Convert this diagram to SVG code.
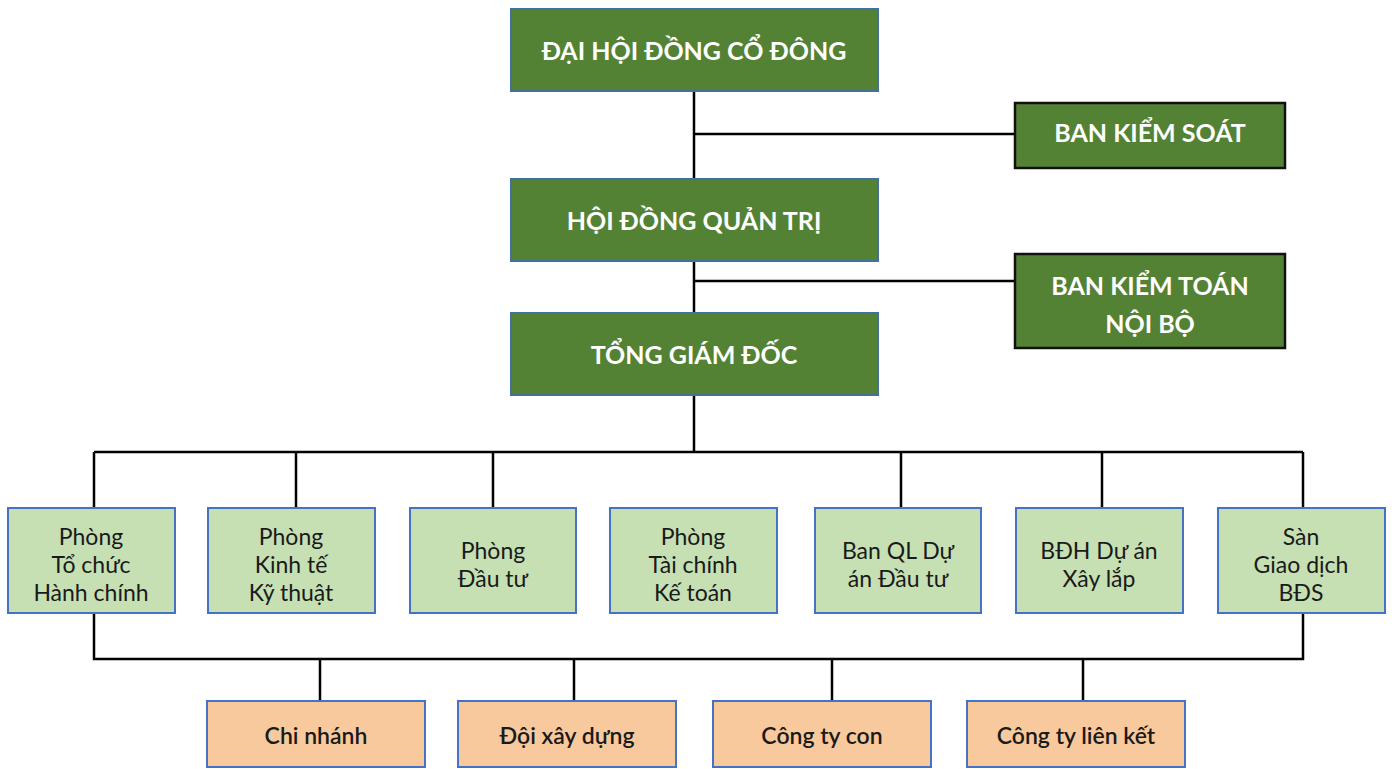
<svg xmlns="http://www.w3.org/2000/svg" width="1392" height="769" viewBox="0 0 1392 769">
<style>
.dg{fill:#548235;stroke:#41719C;stroke-width:2}
.dk{fill:#548235;stroke:#111;stroke-width:2.5}
.lg{fill:#C6E0B4;stroke:#4472C4;stroke-width:2}
.or{fill:#F8C99C;stroke:#4472C4;stroke-width:2}
.tw{font-family:Lato,"Open Sans",sans-serif;font-weight:bold;font-size:25px;fill:#fff;text-anchor:middle;dominant-baseline:central}
.tb{font-family:Lato,"Open Sans",sans-serif;font-size:23px;fill:#1a1a1a;text-anchor:middle;dominant-baseline:central}
.to{font-family:Lato,"Open Sans",sans-serif;font-weight:600;font-size:23px;fill:#1a1a1a;text-anchor:middle;dominant-baseline:central}
.ln{stroke:#000;stroke-width:2.5;fill:none}
</style>
<rect width="1392" height="769" fill="#fff"/>
<g id="connectors">
<path class="ln" d="M694 91V452M694 134H1014M694 281H1014"/>
<path class="ln" d="M94 452H1303M94 452V508M296 452V508M493 452V508M901 452V508M1102 452V508M1303 452V508"/>
<path class="ln" d="M94 613V659H1303V613M320 659V701M574 659V701M832 659V701M1083 659V701"/>
</g>
<g id="n-dhdcd"><rect class="dg" x="511" y="9" width="367" height="82"/><text class="tw" x="694" y="50">ĐẠI HỘI ĐỒNG CỔ ĐÔNG</text></g>
<g id="n-bks"><rect class="dk" x="1015" y="103" width="270" height="65"/><text class="tw" x="1150" y="132">BAN KIỂM SOÁT</text></g>
<g id="n-hdqt"><rect class="dg" x="511" y="179" width="367" height="82"/><text class="tw" x="694" y="220">HỘI ĐỒNG QUẢN TRỊ</text></g>
<g id="n-bktnb"><rect class="dk" x="1015" y="254" width="270" height="94"/><text class="tw" x="1150" y="285">BAN KIỂM TOÁN</text><text class="tw" x="1150" y="323">NỘI BỘ</text></g>
<g id="n-tgd"><rect class="dg" x="511" y="313" width="367" height="82"/><text class="tw" x="694" y="354">TỔNG GIÁM ĐỐC</text></g>
<g id="n-p1"><rect class="lg" x="8" y="508" width="167" height="105"/><text class="tb" x="91" y="536">Phòng</text><text class="tb" x="91" y="564">Tổ chức</text><text class="tb" x="91" y="592">Hành chính</text></g>
<g id="n-p2"><rect class="lg" x="208" y="508" width="167" height="105"/><text class="tb" x="291" y="536">Phòng</text><text class="tb" x="291" y="564">Kinh tế</text><text class="tb" x="291" y="592">Kỹ thuật</text></g>
<g id="n-p3"><rect class="lg" x="410" y="508" width="166" height="105"/><text class="tb" x="493" y="550">Phòng</text><text class="tb" x="493" y="578">Đầu tư</text></g>
<g id="n-p4"><rect class="lg" x="610" y="508" width="167" height="105"/><text class="tb" x="693" y="536">Phòng</text><text class="tb" x="693" y="564">Tài chính</text><text class="tb" x="693" y="592">Kế toán</text></g>
<g id="n-p5"><rect class="lg" x="815" y="508" width="166" height="105"/><text class="tb" x="898" y="550">Ban QL Dự</text><text class="tb" x="898" y="578">án Đầu tư</text></g>
<g id="n-p6"><rect class="lg" x="1016" y="508" width="167" height="105"/><text class="tb" x="1099" y="550">BĐH Dự án</text><text class="tb" x="1099" y="578">Xây lắp</text></g>
<g id="n-p7"><rect class="lg" x="1218" y="508" width="167" height="105"/><text class="tb" x="1301" y="536">Sàn</text><text class="tb" x="1301" y="564">Giao dịch</text><text class="tb" x="1301" y="592">BĐS</text></g>
<g id="n-o1"><rect class="or" x="207" y="701" width="218" height="66"/><text class="to" x="316" y="735">Chi nhánh</text></g>
<g id="n-o2"><rect class="or" x="458" y="701" width="218" height="66"/><text class="to" x="567" y="735">Đội xây dựng</text></g>
<g id="n-o3"><rect class="or" x="713" y="701" width="218" height="66"/><text class="to" x="822" y="735">Công ty con</text></g>
<g id="n-o4"><rect class="or" x="967" y="701" width="218" height="66"/><text class="to" x="1076" y="735">Công ty liên kết</text></g>
</svg>
